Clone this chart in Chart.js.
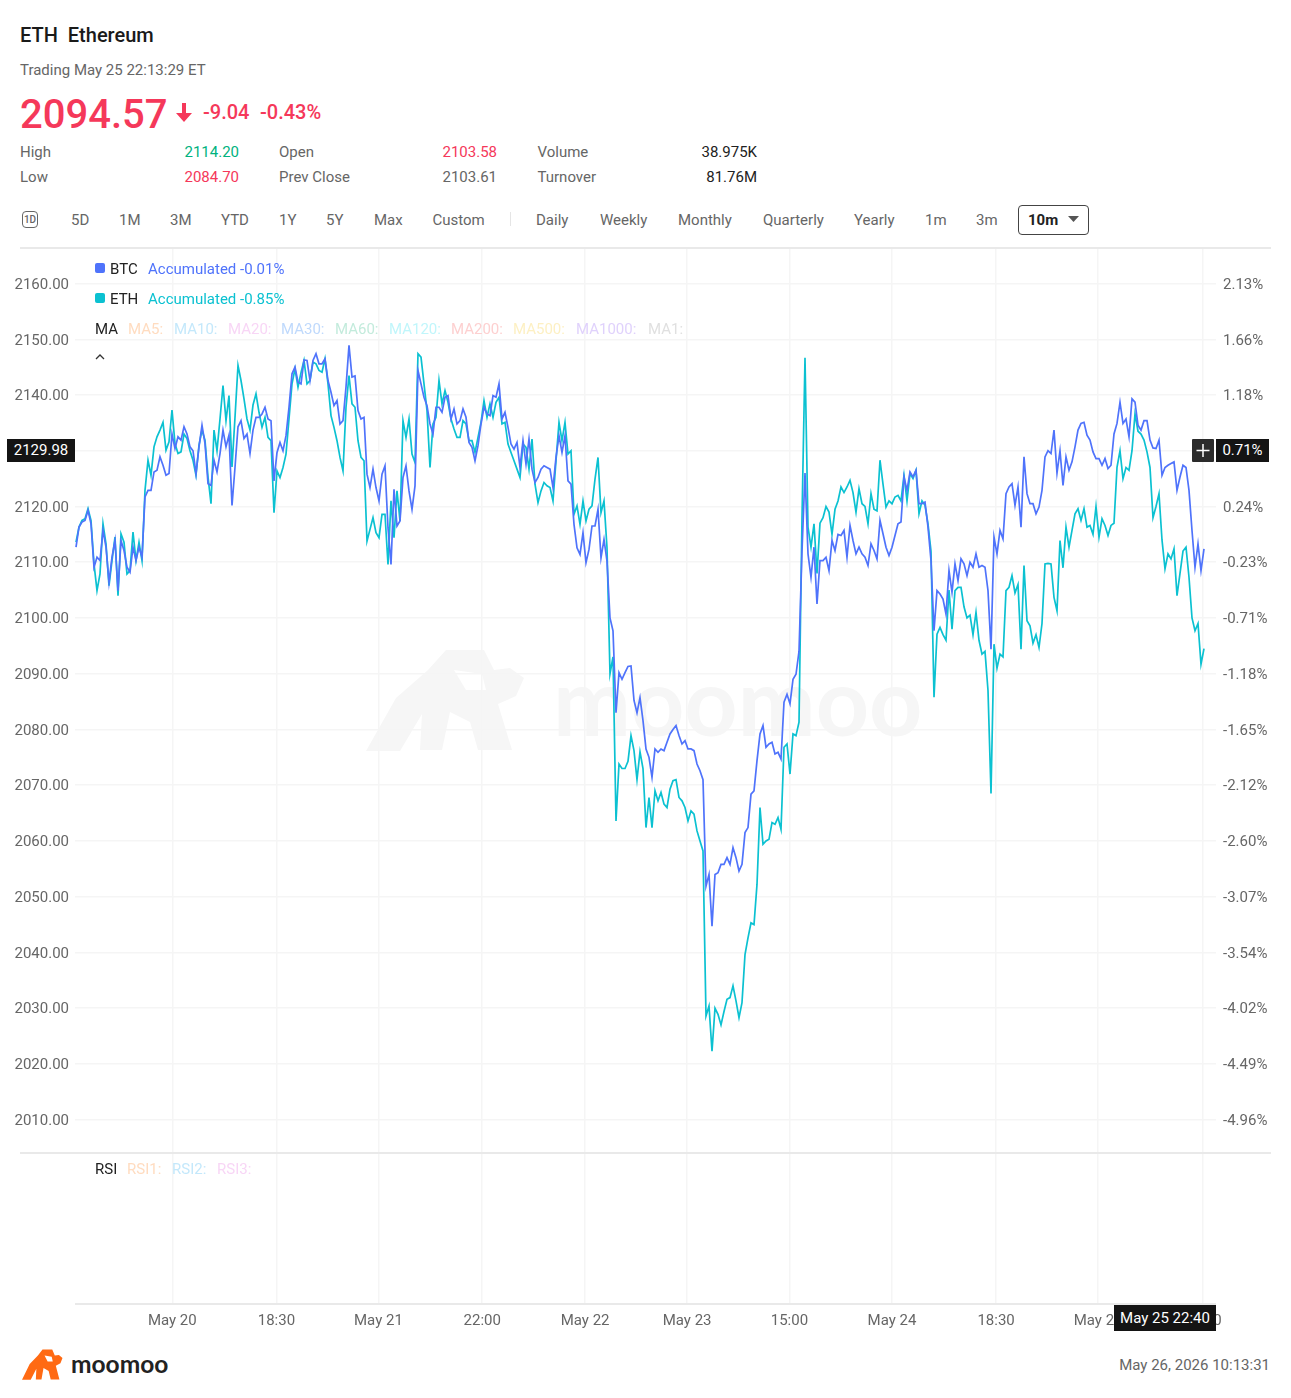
<!DOCTYPE html>
<html><head><meta charset="utf-8">
<script src="https://cdn.jsdelivr.net/npm/chart.js@4"></script>
<style>
html,body{margin:0;padding:0;background:#fff;width:1291px;height:1398px;overflow:hidden;font-family:Roboto,sans-serif}
.t{position:absolute;white-space:nowrap;line-height:20px;height:20px;font-size:15px;color:#666}
.r{transform:translateX(-100%)}
canvas{position:absolute;left:0}
.tag{position:absolute;background:#141414;color:#fff;font-size:15px;text-align:center;z-index:5}
</style></head><body>
<div id="wm" style="position:absolute;left:0;top:0;z-index:0">
<svg style="position:absolute;left:366px;top:648px" width="160" height="104" viewBox="0 0 160 104"><path d="M0 103 L30 50 L62 22 L80 2 L118 2 L128 22 L144 20 L158 30 L150 48 L132 56 L146 102 L112 102 L104 74 L84 64 L76 102 L54 102 L56 66 L34 103 Z" fill="#f6f6f6"/><path d="M88 22 L116 26 L120 42 L100 42 Z" fill="#fff"/></svg>
<div style="position:absolute;left:553px;top:650px;font:700 93px/100px Lato,sans-serif;color:#f6f6f6;white-space:nowrap">moomoo</div>
</div>
<canvas id="main" width="1291" height="905" style="top:247px;z-index:1"></canvas>
<canvas id="rsi" width="1291" height="184" style="top:1152px;z-index:1"></canvas>
<div id="ui"></div>
<script>
const eth=[2113.6,2116.3,2117.5,2117.8,2119.6,2117.5,2109.7,2104.9,2107.9,2116.9,2113.3,2105.8,2110.3,2114.5,2104,2115.1,2113.6,2107.9,2108.5,2115.4,2110.3,2113.6,2110.3,2122.9,2128.3,2125.6,2130.7,2132.5,2133.7,2135.1,2130.1,2131.6,2137.3,2131.3,2129.5,2129.8,2133,2132.2,2130,2128.3,2125.6,2131,2133.7,2131.9,2125.3,2120.5,2133.7,2130,2135.7,2141.7,2135.4,2139.9,2127.1,2136,2145.3,2142.6,2139.3,2135.7,2133.7,2138.2,2140.2,2136.9,2134.2,2136,
2132.4,2131.8,2118.9,2126.4,2125.2,2127,2129.4,2135.7,2142,2144.7,2141.4,2144,2146.2,2142,2142.6,2145.9,2145.6,2144.4,2144.1,2146.5,2142,2136.3,2134.2,2131.8,2128.8,2126.4,2137.8,2143.5,2138.4,2137.8,2131.8,2128.8,2128.2,2113.8,2115.9,2118,2115.3,2114.4,2118.6,2118.6,2109.6,2121,2114.4,2122.8,2117.4,2135.4,2132.4,2135.7,2129.4,2127.9,2147.4,2146.8,2142,2137.2,2127,2134.8,2136,2142.6,2138.4,2140.8,2138.7,2135.7,2133.9,
2132.4,2132.4,2135.4,2134.8,2131.8,2131.8,2129.7,2132.4,2135.1,2139,2136,2138.4,2136,2138.7,2139.6,2134.8,2135.1,2131.2,2129.7,2128.2,2126.7,2125.2,2131.2,2130.6,2126.7,2132.1,2124,2120.7,2122.8,2124.3,2123.7,2123.4,2121,2128.2,2135.1,2131.8,2135.1,2129.4,2130,2118.6,2120.1,2116.8,2121,2117.4,2119.5,2120.1,2124.9,2128.8,2118.9,2121,2112.6,
2090,2093,2063.6,2073.8,2073,2073,2074.3,2078.9,2076.2,2071,2076,2073,2062.4,2067.8,2062.4,2069,2067.2,2068.7,2066.6,2066,2069.3,2070.8,2071,2067.8,2067.2,2066,2063.6,2065.4,2064.8,2061.8,2060,2058.2,2028.6,2030.4,2022.3,2030,2028.9,2027,2029.4,2031.6,2031.9,2034,2031.3,2028.3,2031,2039.6,2042.6,2045.3,2045,2052.2,2066,2059.4,2060,2060.3,2063.3,2063,2064.2,2062.1,2076.8,2077.4,2072,2079.2,2078.9,2081.3,2118,
2146.7,2116.3,2112.7,2116.9,2108,2117,2118,2120,2119,2115,2119.5,2121,2123.5,2122.5,2123.5,2124.7,2122.5,2119,2123.2,2120.5,2120,2116.9,2122.3,2119.5,2119.2,2128.3,2124,2119.9,2121,2120.5,2121.7,2122,2121,2125.6,2121,2125.9,2125,2126.5,2118.7,2121,2120.2,2116.9,2112,2085.8,
2097.1,2098.3,2097,2096,2105,2098,2104.9,2105.5,2105.5,2102,2100,2100.5,2097,2101,2096,2093.5,2094,2087,2068.5,2095.3,2091,2093.5,2093,2104.9,2105.5,2107.6,2104.5,2106,2094.4,2109.4,2099.5,2098.6,2095.5,2097,2094.7,2099,2109.7,2109.8,2109.7,2103.7,2101.3,2113.9,2109,2116.3,2112.7,2115.7,2118.7,2119.6,2117.5,2119.6,2116.3,2116.6,2115,2120,2114.5,2117.8,2116.6,2114.8,2116.6,2117,2127,2130,2125,2127,2126.5,2130,2136.6,2133.5,2133,2131.9,2129.8,2127,2118,2120,2122.3,2114,2108.8,2111.5,2110.6,2112.4,2104,2108,2112,2112.7,2107.3,2100,2097.7,2099,2091.7,2094.5];
const btc=[2112.7,2116.3,2117.2,2117.5,2119.3,2116.9,2109.1,2110.9,2110.3,2115.7,2112.7,2106.4,2110.9,2113.9,2104.9,2113.9,2112.1,2109.1,2108.2,2112.7,2110.3,2112.7,2110.9,2121.7,2122.9,2122.9,2126.2,2126.5,2128.9,2127.4,2125.6,2125.9,2133,2130.4,2132.5,2131.9,2134.3,2133,2130.7,2130,2125.9,2130.7,2134.6,2131.3,2124.1,2123.8,2128.3,2126.2,2129.5,2133.7,2130.7,2132.8,2120.2,2127,2134.3,2135.4,2132.2,2133,2129.5,2133.7,2136,2136,2136.6,2137.8,
2135.7,2135.4,2124.6,2129.7,2131.5,2130,2132.7,2137.8,2143.8,2145,2142.3,2142,2146.3,2146.2,2142.6,2146.2,2147.4,2145.6,2145.6,2146.5,2142.6,2140.5,2138.1,2139,2134.8,2135.4,2141.4,2148.9,2143.2,2143.4,2137.2,2135.7,2136,2125.8,2123.4,2126.7,2123.4,2121,2125.8,2127.3,2116.2,2109.6,2123.1,2116.5,2117.4,2125.2,2127.3,2122.8,2119.5,2123.7,2144.4,2142,2139.6,2138.1,2134.8,2133,2137.8,2137.8,2136.9,2139.6,2139.9,2135.7,2137.5,
2134.8,2135.4,2137.5,2136,2131.5,2130.6,2128.2,2130.9,2134.8,2137.8,2136.6,2136.3,2139.9,2139.6,2142,2135.7,2136.9,2134.2,2131.2,2130.3,2131.5,2127,2131.8,2127.6,2132.1,2126.7,2124.3,2125.2,2126.7,2127.3,2127,2126.7,2123.4,2128.8,2132.7,2129.7,2132.7,2124.6,2124,2116.8,2112.6,2111.4,2115.3,2109.9,2112.3,2116.5,2116.5,2119.5,2110.8,2114.1,2110.2,
2100,2097.7,2083,2090.2,2089,2090.2,2091.3,2091.4,2085.2,2083,2085.7,2081.6,2076.5,2075,2071.4,2076.5,2075.9,2076.5,2076.2,2077.7,2079.2,2080,2080.7,2078.9,2077.4,2078,2076.5,2076.5,2076.2,2073.8,2072.6,2071,2051.9,2054,2044.7,2054,2054.3,2055.8,2055.8,2057,2055.8,2058.8,2057,2054.6,2055.8,2061.5,2062.4,2068.4,2069,2074.4,2079.2,2080.7,2076.8,2077.4,2077.7,2075.6,2075.9,2074.7,2084.9,2086.3,2084.6,2089,2089.9,2094,2112,
2126,2111.5,2107.3,2112.7,2102.5,2110.3,2110.3,2110.9,2108.5,2113.9,2112.1,2115,2114.8,2115.7,2110.9,2116.6,2113.9,2111.5,2112.7,2111.5,2110.9,2109.4,2113.3,2112.1,2110.6,2117.5,2115.1,2112.7,2111.2,2112.7,2114.8,2116.9,2117.2,2125.3,2122.9,2126.2,2125.3,2126.5,2120.5,2120.5,2120.8,2116.3,2110.3,2097.7,
2104.9,2104.3,2103.4,2100.7,2108.5,2104.6,2109.7,2106.7,2110.6,2109.7,2107.6,2110,2109.1,2111.5,2109.1,2109.4,2109.1,2104.9,2094.4,2114.5,2111.5,2115.7,2114.2,2122.3,2123.5,2124.1,2120.2,2123.5,2116.3,2128.9,2122.3,2120.5,2120.5,2118.7,2119.9,2122.9,2128.9,2130,2129.5,2133.7,2126,2130,2123.8,2128.9,2126.5,2128,2130.7,2133.7,2134.9,2135.1,2132.8,2131.9,2129.8,2128.6,2128.6,2127.4,2128.6,2126.8,2127.4,2133,2134.9,2138.7,2134.9,2135.7,2132.5,2139.3,2138.7,2134.6,2133.7,2135.4,2135.4,2131.9,2130.5,2130.4,2131.9,2125.6,2127,2127.4,2127.7,2128,2122.9,2125.3,2127.4,2127,2122.9,2115.7,2109.1,2113.3,2108.5,2112.4];
const leftTicks=[2160,2150,2140,2130,2120,2110,2100,2090,2080,2070,2060,2050,2040,2030,2020,2010];
const rightLabels=["2.13%","1.66%","1.18%","0.71%","0.24%","-0.23%","-0.71%","-1.18%","-1.65%","-2.12%","-2.60%","-3.07%","-3.54%","-4.02%","-4.49%","-4.96%"];
const xTickIndex=[32.1,66.8,100.8,135.4,169.7,203.7,237.8,272,306.7,340.7,375.7];
const xTickLabels=["May 20","18:30","May 21","22:00","May 22","May 23","15:00","May 24","18:30","May 25","22:00"];

const BLUE='#4f73fb',TEAL='#0bc1d1',GRID='#f5f5f5',TXT='#666';
const FONT={family:'Roboto',size:15};
const xMin=-1/3,xMax=380;
function noPadX(s){s.paddingLeft=0;s.paddingRight=0;}
function xScale(extra){return Object.assign({type:'linear',min:xMin,max:xMax,
  afterBuildTicks:s=>{s.ticks=xTickIndex.map(v=>({value:v}));},
  grid:{color:GRID,lineWidth:1.5,drawTicks:false},border:{display:false}},extra);}
function yFit(s){s.width=75;s.paddingTop=0;s.paddingBottom=0;}
new Chart(document.getElementById('main'),{type:'line',
 data:{datasets:[
  {label:'BTC',data:btc.map((y,x)=>({x,y})),borderColor:BLUE,borderWidth:1.7,pointRadius:0,tension:0},
  {label:'ETH',data:eth.map((y,x)=>({x,y})),borderColor:TEAL,borderWidth:1.7,pointRadius:0,tension:0}]},
 options:{responsive:false,animation:false,devicePixelRatio:1,
  layout:{padding:0},
  plugins:{legend:{display:false},tooltip:{enabled:false}},
  scales:{
   x:xScale({afterFit:noPadX,ticks:{display:false}}),
   y:{type:'linear',position:'left',min:2004.2,max:2166.55,
     afterBuildTicks:s=>{s.ticks=leftTicks.map(v=>({value:v}));},
     afterFit:yFit,
     ticks:{autoSkip:false,color:TXT,font:FONT,padding:6,labelOffset:1.5,callback:v=>v.toFixed(2)},
     grid:{color:GRID,lineWidth:1.5,drawTicks:false},border:{display:false}},
   y2:{type:'linear',position:'right',min:2004.2,max:2166.55,
     afterBuildTicks:s=>{s.ticks=leftTicks.map(v=>({value:v}));},
     afterFit:yFit,
     ticks:{autoSkip:false,color:TXT,font:FONT,padding:7,labelOffset:1.5,callback:(v,i)=>rightLabels[i]},
     grid:{drawOnChartArea:false,drawTicks:false},border:{display:false}}
  }}});
new Chart(document.getElementById('rsi'),{type:'line',
 data:{datasets:[{label:'RSI',data:[],pointRadius:0}]},
 options:{responsive:false,animation:false,devicePixelRatio:1,
  layout:{padding:{left:75,right:75,top:0,bottom:0}},
  plugins:{legend:{display:false},tooltip:{enabled:false}},
  scales:{
   x:xScale({afterFit:s=>{s.height=33;noPadX(s);},
     ticks:{autoSkip:false,maxRotation:0,color:TXT,font:FONT,padding:9,callback:(v,i)=>xTickLabels[i]}}),
   y:{display:false,min:0,max:100}
  }}});

const ui=document.getElementById('ui');
function T(x,y,s,o={}){const d=document.createElement('div');d.className='t'+(o.r?' r':'');d.textContent=s;
 d.style.left=x+'px';d.style.top=(y-10)+'px';d.style.zIndex=3;
 if(o.c)d.style.color=o.c;if(o.s)d.style.fontSize=o.s+'px';if(o.w)d.style.fontWeight=o.w;
 ui.appendChild(d);return d;}
function box(x,y,w,h,c,r,z){const d=document.createElement('div');d.style.cssText=`position:absolute;left:${x}px;top:${y}px;width:${w}px;height:${h}px;background:${c};border-radius:${r||0}px;z-index:${z||3}`;ui.appendChild(d);return d;}
const RED='#f5385a';
T(20,35,'ETH\u00a0\u00a0Ethereum',{c:'#1a1a1a',s:20,w:500});
T(20,70,'Trading May 25 22:13:29 ET');
T(20,114.5,'2094.57',{c:RED,s:40,w:500});
T(203,112,'-9.04',{c:RED,s:20,w:500});
T(260,112,'-0.43%',{c:RED,s:20,w:500});
ui.insertAdjacentHTML('beforeend','<svg style="position:absolute;left:175px;top:102px;z-index:3" width="18" height="20" viewBox="0 0 18 20"><path d="M7 1h4v10h6l-8 9-8-9h6z" fill="#f5385a"/></svg>');
T(20,152,'High');T(239,152,'2114.20',{r:1,c:'#00b27e'});
T(279,152,'Open');T(497,152,'2103.58',{r:1,c:RED});
T(537.5,152,'Volume');T(757,152,'38.975K',{r:1,c:'#222'});
T(20,177,'Low');T(239,177,'2084.70',{r:1,c:RED});
T(279,177,'Prev Close');T(497,177,'2103.61',{r:1});
T(537.5,177,'Turnover');T(757,177,'81.76M',{r:1,c:'#222'});
// period tabs
const tabs=[['5D',71],['1M',119],['3M',170],['YTD',221],['1Y',279],['5Y',326],['Max',374],['Custom',432.5],['Daily',536],['Weekly',600],['Monthly',678],['Quarterly',763],['Yearly',854],['1m',925],['3m',976]];
tabs.forEach(([s,x])=>T(x,220,s));
const one=box(22,211,14,15,'#fff',4);one.style.border='1.5px solid #666';
one.style.cssText+=';font:500 10px/15px Roboto;color:#666;text-align:center';one.textContent='1D';
box(510,212,1,14,'#e5e5e5');
const b10=box(1018,205,69,28,'#fff',4);b10.style.border='1.2px solid #444';
T(1028,220,'10m',{c:'#222',w:700});
ui.insertAdjacentHTML('beforeend','<svg style="position:absolute;left:1068px;top:216px;z-index:4" width="12" height="7"><path d="M0 0h11l-5.5 6z" fill="#555"/></svg>');
[[20,246.5,1251],[20,1152,1251],[75,1303,1141]].forEach(([x,y,w])=>{const l=box(x,y,w,2,'#e9e9e9');l.style.zIndex=2;});
// legend
box(95,263,10,10,BLUE,2);T(110,269,'BTC',{c:'#222'});T(148,269,'Accumulated -0.01%',{c:BLUE});
box(95,293,10,10,TEAL,2);T(110,299,'ETH',{c:'#222'});T(148,299,'Accumulated -0.85%',{c:TEAL});
T(95,329,'MA',{c:'#222'});
[['MA5:',128,'#ffdcc0'],['MA10:',174,'#c4e8fb'],['MA20:',228,'#f8d6f6'],['MA30:',281,'#bfd9fc'],['MA60:',335,'#c3ebdc'],['MA120:',389,'#c0f6fb'],['MA200:',451,'#fdd0d0'],['MA500:',513,'#fdf0c3'],['MA1000:',576,'#e0d2fc'],['MA1:',648,'#e0e0e0']].forEach(([s,x,c])=>T(x,329,s,{c}));
ui.insertAdjacentHTML('beforeend','<svg style="position:absolute;left:95px;top:354px;z-index:3" width="10" height="6"><path d="M1 5l4-4 4 4" fill="none" stroke="#333" stroke-width="1.3"/></svg>');
T(95,1169,'RSI',{c:'#222'});
[['RSI1:',127,'#ffdcc0'],['RSI2:',172,'#c4e8fb'],['RSI3:',217,'#f8d6f6']].forEach(([s,x,c])=>T(x,1169,s,{c}));
// crosshair tags
function tag(x,y,w,h,s){const d=document.createElement('div');d.className='tag';d.style.cssText+=`left:${x}px;top:${y}px;width:${w}px;height:${h}px;line-height:${h}px`;d.textContent=s;ui.appendChild(d);}
tag(7,439,68,23,'2129.98');
tag(1216,439,53,23,'0.71%');
tag(1114,1305,102,26,'May 25 22:40');
const plus=box(1192,439,22,23,'#2b2b2b',1,5);
plus.innerHTML='<svg width="22" height="23"><path d="M11 5v13M4.5 11.5h13" stroke="#fff" stroke-width="1.5"/></svg>';
// footer
ui.insertAdjacentHTML('beforeend','<svg style="position:absolute;left:22px;top:1349px;z-index:3" width="41" height="31" viewBox="0 0 160 104" preserveAspectRatio="none"><path d="M0 103 L30 50 L62 22 L80 2 L118 2 L128 22 L144 20 L158 30 L150 48 L132 56 L146 102 L112 102 L104 74 L84 64 L76 102 L54 102 L56 66 L34 103 Z" fill="#ff6a13"/><path d="M88 22 L116 26 L120 42 L100 42 Z" fill="#fff"/></svg>');
T(71,1364,'moomoo',{c:'#222',s:24.5,w:700}).style.fontFamily='Lato';
T(1270,1365,'May 26, 2026 10:13:31',{r:1});
</script>
</body></html>
